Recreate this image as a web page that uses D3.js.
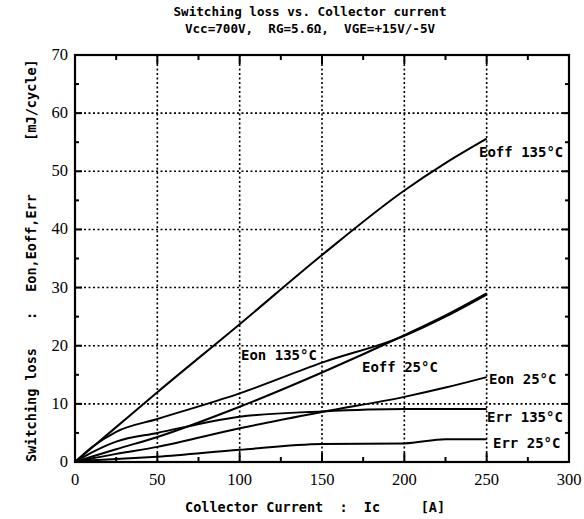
<!DOCTYPE html>
<html>
<head>
<meta charset="utf-8">
<script src="https://cdn.jsdelivr.net/npm/d3@7"></script>
<style>
  body { margin: 0; background: #fff; }
  text { fill: #000; }
  .mono { font-family: "DejaVu Sans Mono", "Liberation Mono", monospace; font-weight: bold; }
  .tick-label { font-family: "Liberation Serif", "DejaVu Serif", serif; font-size: 16.5px; }
</style>
</head>
<body>
<div class="container"></div>
<script>
// collector current [A]
const ic = [0, 10, 25, 50, 100, 150, 200, 225, 250];

// switching loss [mJ/cycle]
const eoff135 = [0, 2.4, 6.0, 12.0, 23.7, 35.6, 46.7, 51.4, 55.6];
const eon135  = [0, 2.5, 5.2, 7.4, 11.8, 17.1, 21.7, 25.0, 28.8];
const eoff25  = [0, 0.9, 2.2, 4.3, 9.5, 15.4, 21.8, 25.2, 29.0];
const eon25   = [0, 0.6, 1.4, 2.6, 5.8, 8.6, 11.2, 12.8, 14.6];
const err135  = [0, 1.6, 3.5, 5.0, 7.8, 8.7, 9.1, 9.1, 9.1];
const err25   = [0, 0.3, 0.5, 0.9, 2.1, 3.1, 3.2, 3.9, 3.9];

const seriesNames = ['Eoff 135°C', 'Eon 135°C', 'Eoff 25°C', 'Eon 25°C', 'Err 135°C', 'Err 25°C'];
const seriesValues = [eoff135, eon135, eoff25, eon25, err135, err25];

const xTicks = [0, 50, 100, 150, 200, 250, 300];
const yTicks = [0, 10, 20, 30, 40, 50, 60, 70];

const WIDTH = 584;
const HEIGHT = 519;
const LEFT = 75, RIGHT = 569, TOP = 55, BOTTOM = 462;

var svg = d3.select('.container').append('svg')
    .attr('width', WIDTH)
    .attr('height', HEIGHT);

var xScale = d3.scaleLinear().domain([0, 300]).range([LEFT, RIGHT]);
var yScale = d3.scaleLinear().domain([0, 70]).range([BOTTOM, TOP]);

// dotted grid
var grid = svg.append('g')
    .attr('stroke', '#000')
    .attr('stroke-width', 1.6)
    .attr('stroke-dasharray', '2,2.5');

grid.selectAll('line.gx').data(xTicks.slice(1, -1))
    .enter().append('line')
    .attr('x1', d => xScale(d)).attr('x2', d => xScale(d))
    .attr('y1', TOP).attr('y2', BOTTOM);

grid.selectAll('line.gy').data(yTicks.slice(1, -1))
    .enter().append('line')
    .attr('x1', LEFT).attr('x2', RIGHT)
    .attr('y1', d => yScale(d)).attr('y2', d => yScale(d));

// inward ticks on all four sides
var xMinor = d3.range(0, 301, 25);
var yMinor = d3.range(0, 71, 5);

var ticks = svg.append('g').attr('stroke', '#000').attr('stroke-width', 2);

ticks.selectAll('line.xb').data(xMinor).enter().append('line')
    .attr('x1', d => xScale(d)).attr('x2', d => xScale(d))
    .attr('y1', BOTTOM).attr('y2', d => BOTTOM - (d % 50 === 0 ? 9 : 5));
ticks.selectAll('line.xt').data(xMinor).enter().append('line')
    .attr('x1', d => xScale(d)).attr('x2', d => xScale(d))
    .attr('y1', TOP).attr('y2', d => TOP + (d % 50 === 0 ? 9 : 5));
ticks.selectAll('line.yl').data(yMinor).enter().append('line')
    .attr('y1', d => yScale(d)).attr('y2', d => yScale(d))
    .attr('x1', LEFT).attr('x2', d => LEFT + (d % 10 === 0 ? 7 : 4));
ticks.selectAll('line.yr').data(yMinor).enter().append('line')
    .attr('y1', d => yScale(d)).attr('y2', d => yScale(d))
    .attr('x1', RIGHT).attr('x2', d => RIGHT - (d % 10 === 0 ? 7 : 4));

// frame
svg.append('rect')
    .attr('x', LEFT).attr('y', TOP)
    .attr('width', RIGHT - LEFT).attr('height', BOTTOM - TOP)
    .attr('fill', 'none').attr('stroke', '#000').attr('stroke-width', 2.2);

// tick labels
svg.selectAll('text.xl').data(xTicks).enter().append('text')
    .attr('class', 'tick-label')
    .attr('x', d => xScale(d)).attr('y', 485)
    .attr('text-anchor', 'middle')
    .text(d => d);

svg.selectAll('text.yl').data(yTicks).enter().append('text')
    .attr('class', 'tick-label')
    .attr('x', 68).attr('y', d => yScale(d) + 5)
    .attr('text-anchor', 'end')
    .text(d => d);

// curves
var line = d3.line()
    .x((d, i) => xScale(ic[i]))
    .y(d => yScale(d))
    .curve(d3.curveMonotoneX);

svg.append('g').selectAll('path').data(seriesValues)
    .enter().append('path')
    .attr('d', line)
    .attr('fill', 'none')
    .attr('stroke', '#000')
    .attr('stroke-width', 2);

// curve labels
var labelPos = [[479, 157], [241, 360], [362, 372], [489, 384], [487, 422], [493, 448]];
svg.selectAll('text.cl').data(seriesNames).enter().append('text')
    .attr('class', 'mono')
    .attr('font-size', 14)
    .attr('x', (d, i) => labelPos[i][0])
    .attr('y', (d, i) => labelPos[i][1])
    .text(d => d);

// titles
svg.append('text').attr('class', 'mono').attr('font-size', 12.6)
    .attr('x', 310).attr('y', 16).attr('text-anchor', 'middle')
    .text('Switching loss vs. Collector current');
svg.append('text').attr('class', 'mono').attr('font-size', 12.6)
    .attr('x', 310).attr('y', 33).attr('text-anchor', 'middle')
    .attr('xml:space', 'preserve')
    .text('Vcc=700V,  RG=5.6Ω,  VGE=+15V/-5V');

// x axis label
svg.append('text').attr('class', 'mono').attr('font-size', 13.5)
    .attr('x', 185).attr('y', 512)
    .attr('xml:space', 'preserve')
    .text('Collector Current  :  Ic     [A]');

// y axis label, in pieces
var yLabelParts = [['Switching loss', 405], [':', 316], ['Eon,Eoff,Err', 243], ['[mJ/cycle]', 100]];
svg.selectAll('text.ylab').data(yLabelParts).enter().append('text')
    .attr('class', 'mono')
    .attr('font-size', 13.5)
    .attr('text-anchor', 'middle')
    .attr('transform', d => `translate(36, ${d[1]}) rotate(-90)`)
    .text(d => d[0]);
</script>
</body>
</html>
